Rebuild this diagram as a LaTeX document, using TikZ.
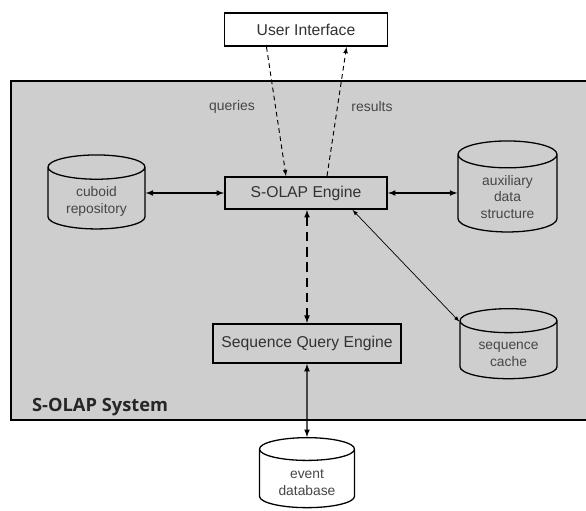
\documentclass[tikz,border=0pt]{standalone}
\usepackage{fontspec}
\setmainfont{Liberation Sans}
\newfontfamily\sysfont{Open Sans}
\usepackage{tikz}
\usetikzlibrary{arrows,shapes}
\usetikzlibrary{shapes.geometric}
\usetikzlibrary{positioning}
\usetikzlibrary{calc}
\definecolor{sysgray}{RGB}{206,206,206}
\definecolor{txtgray}{RGB}{50,50,50}
\definecolor{lblgray}{RGB}{70,70,70}
\tikzstyle{block} = [draw, rectangle, line width = 1.6pt, text = txtgray, font = \fontsize{13.4}{16}\selectfont, inner sep = 0pt]
\tikzstyle{store} = [draw, cylinder, shape border rotate = 90, aspect = 0.4, line width = 1.1pt, fill = sysgray, text = lblgray, align = center, font = \fontsize{11.8}{14.2}\selectfont, inner sep = 0pt]
\tikzstyle{arrow} = [thick,<->]
\tikzstyle{flow} = [thick, ->, dash pattern = on 4pt off 3pt]

\begin{document}
\begin{tikzpicture}[>=latex]

		\useasboundingbox (0,0) rectangle (17.58,-15.33);

		% System frame
		\draw[fill = sysgray, line width = 1.6pt] (0.33,-2.43) rectangle (19,-12.6);
		\node[anchor = base west, font = \sysfont\bfseries\fontsize{15.6}{19}\selectfont, text = black!85] (system) at (0.84,-12.33) {S-OLAP System};

		% Engines
		\node[block, fill = sysgray, minimum width = 4.86cm, minimum height = 0.96cm] (solap) at (9.18,-5.79) {S-OLAP Engine};
		\node[block, fill = white, minimum width = 4.89cm, minimum height = 0.99cm, above = 3.87cm of solap] (ui) {User Interface};
		\node[block, fill = sysgray, minimum width = 5.64cm, minimum height = 1.17cm, below = 3.39cm of solap, xshift = 0.03cm] (sqe) {Sequence Query Engine};

		% Stores
		\node[store, minimum width = 2.91cm, minimum height = 2.22cm] (cuboid) at (2.895,-5.95) {\\cuboid\\repository};
		\node[store, aspect = 0.5, minimum width = 2.97cm, minimum height = 2.73cm] (aux) at (15.225,-5.805) {\\auxiliary\\data\\structure};
		\node[store, minimum width = 2.91cm, minimum height = 2.10cm] (cache) at (15.255,-10.5) {\\sequence\\cache};
		\node[store, fill = white, minimum width = 2.85cm, minimum height = 2.1cm] (edb) at (9.21,-14.36) {\\event\\database};

		% Labels
		\node[text = lblgray, font = \fontsize{11.9}{14}\selectfont] (qlbl) at (6.96,-3.21) {queries};
		\node[text = lblgray, font = \fontsize{11.9}{14}\selectfont] (rlbl) at (11.16,-3.21) {results};
		\coordinate[left = 1.185cm of ui.south] (lui);
		\coordinate[right = 1.215cm of ui.south] (rui);
		\coordinate[left = 0.6cm of solap.north] (lsolap);
		\coordinate[right = 0.63cm of solap.north] (rsolap);

		% Connect all nodes defined above
		\draw[flow] (lui) -- (lsolap);
		\draw[flow] (rsolap) -- (rui);
		\draw[arrow, very thick] (solap.west) -- (cuboid.east |- solap.west);
		\draw[arrow, very thick] (solap.east) -- (aux.west |- solap.east);
		\draw[<->, semithick] (solap.-20) -- (cache.150);
		\draw[arrow, very thick, dash pattern = on 8pt off 5pt] (sqe.north |- solap.south) -- (sqe.north);
		\draw[arrow, very thick] (sqe.south) -- (edb.north);

\end{tikzpicture}
\end{document}
